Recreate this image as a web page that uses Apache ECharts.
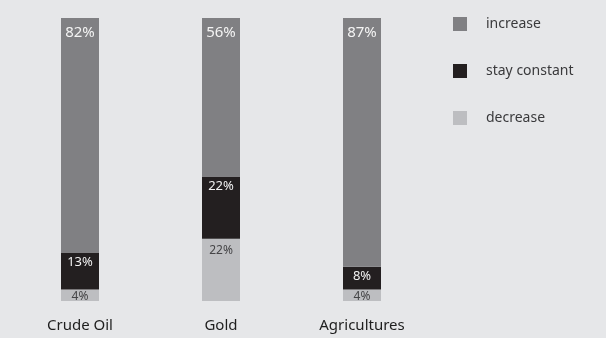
<!DOCTYPE html>
<html>
<head>
<meta charset="utf-8">
<script src="https://cdn.jsdelivr.net/npm/echarts@6/dist/echarts.min.js"></script>
<style>
  html, body { margin: 0; padding: 0; background: #e6e7e9; }
  #chart { width: 606px; height: 338px; }
</style>
</head>
<body>
<div id="chart"></div>
<script>
const categories = ['Crude Oil', 'Gold', 'Agricultures']
const decrease = [4, 22, 4]
const stayConstant = [13, 22, 8]
const increase = [82, 56, 87]

// each column is drawn as a full-height stack, so scale to its own total
const totals = categories.map((c, i) => decrease[i] + stayConstant[i] + increase[i])
const toItems = (arr) => arr.map((v, i) => ({ value: (v / totals[i]) * 100, raw: v }))

const fontFamily = '"Noto Sans", sans-serif'
const pct = (p) => p.data.raw + '%'

// tall light segment pushes its label a little further down
const decreaseItems = toItems(decrease).map((d) =>
  d.raw > 10 ? { ...d, label: { distance: 6 } } : d
)

const myChart = echarts.init(document.getElementById('chart'))
const option = {
  backgroundColor: '#e6e7e9',
  animation: false,
  grid: { top: 18, bottom: 37, left: 9.5, right: 173.5 },
  legend: {
    orient: 'vertical',
    left: 448,
    top: 12,
    itemWidth: 14,
    itemHeight: 14,
    itemGap: 33,
    icon: 'rect',
    textStyle: { color: '#3a3a3c', fontSize: 14, fontFamily, padding: [0, 0, 0, 14] },
    data: ['increase', 'stay constant', 'decrease']
  },
  xAxis: {
    type: 'category',
    data: categories,
    axisLine: { show: false },
    axisTick: { show: false },
    axisLabel: { color: '#1e1e1e', fontSize: 15, fontFamily, margin: 17 }
  },
  yAxis: {
    type: 'value',
    min: 0,
    max: 100,
    show: false,
    splitLine: { show: false }
  },
  series: [
    {
      name: 'decrease',
      type: 'bar',
      stack: 'all',
      barWidth: 38,
      itemStyle: { color: '#bdbec1' },
      label: {
        show: true,
        position: 'insideTop',
        distance: 1,
        color: '#454547',
        fontSize: 12,
        fontFamily,
        formatter: pct
      },
      data: decreaseItems
    },
    {
      name: 'stay constant',
      type: 'bar',
      stack: 'all',
      barWidth: 38,
      itemStyle: { color: '#231f20' },
      label: {
        show: true,
        position: 'insideTop',
        distance: 3,
        color: '#f2f2f2',
        fontSize: 13,
        fontFamily,
        formatter: pct
      },
      data: toItems(stayConstant)
    },
    {
      name: 'increase',
      type: 'bar',
      stack: 'all',
      barWidth: 38,
      itemStyle: { color: '#808083' },
      label: {
        show: true,
        position: 'insideTop',
        distance: 7,
        color: '#f4f4f4',
        fontSize: 15,
        fontFamily,
        formatter: pct
      },
      data: toItems(increase)
    }
  ]
}
myChart.setOption(option)
window.addEventListener('resize', () => myChart.resize())
</script>
</body>
</html>
